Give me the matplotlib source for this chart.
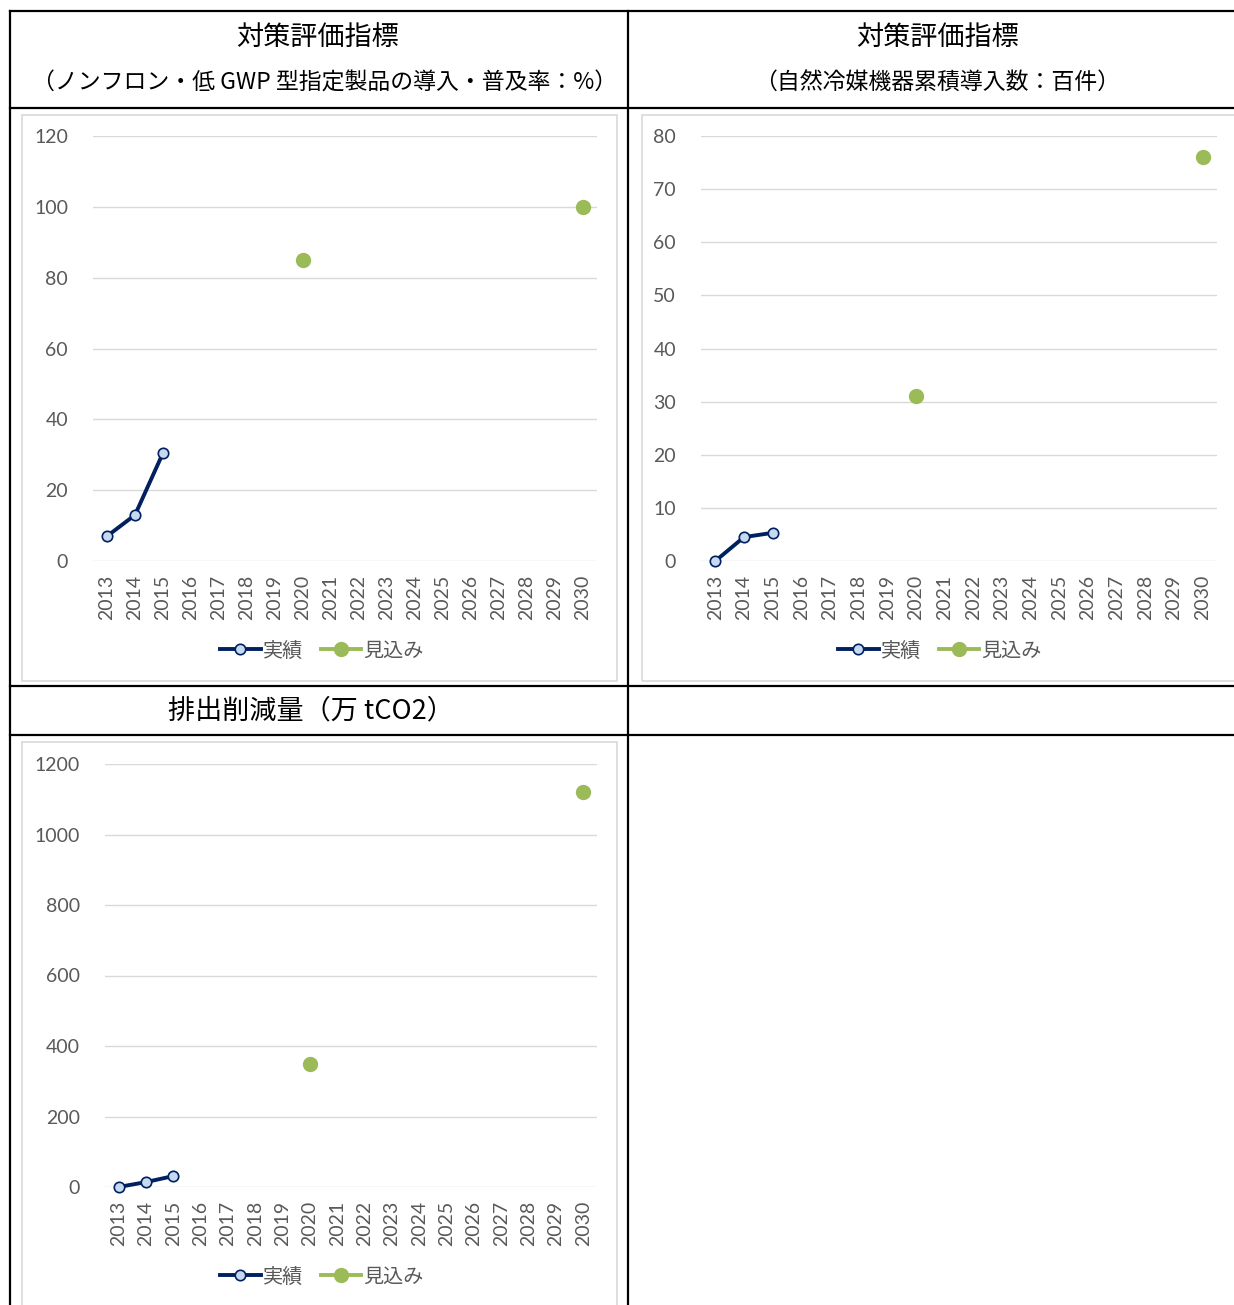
import matplotlib.pyplot as plt
from matplotlib.lines import Line2D
from matplotlib.patches import Rectangle
import numpy as np

plt.rcParams['font.family'] = ['Lato', 'Noto Sans CJK JP', 'DejaVu Sans']

#########
# data
#########
years = [str(y) for y in range(2013, 2031)]

# chart 1: ノンフロン・低GWP型指定製品の導入・普及率 (%)
actual1 = {'2013': 7, '2014': 13, '2015': 30.5}
plan1 = {'2020': 85, '2030': 100}
# chart 2: 自然冷媒機器累積導入数 (百件)
actual2 = {'2013': 0, '2014': 4.5, '2015': 5.3}
plan2 = {'2020': 31, '2030': 76}
# chart 3: 排出削減量 (万tCO2)
actual3 = {'2013': 0, '2014': 14, '2015': 31}
plan3 = {'2020': 350, '2030': 1120}

header1 = '対策評価指標'
sub1 = '（ノンフロン・低 GWP 型指定製品の導入・普及率：%）'
sub2 = '（自然冷媒機器累積導入数：百件）'
header3 = '排出削減量（万 tCO2）'
legend_labels = ['実績', '見込み']

#########
# style
#########
W, H = 1234, 1305
navy = '#002060'
lightblue = '#c5d9f1'
green = '#9bbb59'
grid_c = '#d9d9d9'
tick_c = '#595959'


def fx(x):
    return x / W


def fy(y):
    return 1 - y / H


def series(d):
    return np.array([d.get(y, np.nan) for y in years], dtype=float)


def draw_chart(fig, box, plot, leg_xy, ymax, ystep, actual, plan):
    # light outer frame of the chart object
    bx0, by0, bx1, by1 = box
    fig.add_artist(Rectangle((fx(bx0), fy(by1)), fx(bx1 - bx0), (by1 - by0) / H,
                             transform=fig.transFigure, fill=False,
                             edgecolor=grid_c, linewidth=1.2))
    x0, ytop, x1, ybot = plot
    ax = fig.add_axes([fx(x0), fy(ybot), fx(x1 - x0), (ybot - ytop) / H])
    xs = np.arange(len(years))
    ax.plot(xs, series(actual), color=navy, lw=2.8, marker='o', ms=7.5,
            mfc=lightblue, mec=navy, mew=1.2, label=legend_labels[0],
            zorder=3, clip_on=False)
    ax.plot(xs, series(plan), color=green, lw=2.8, marker='o', ms=10,
            mfc=green, mec=green, label=legend_labels[1], zorder=3, clip_on=False)
    ax.set_xlim(-0.5, len(years) - 0.5)
    ax.set_ylim(0, ymax)
    ax.set_yticks(np.arange(0, ymax + ystep / 2, ystep))
    ax.set_xticks(xs)
    ax.set_xticklabels(years, rotation=90)
    ax.tick_params(axis='both', length=0, labelsize=14, colors=tick_c)
    ax.tick_params(axis='y', pad=18)
    ax.tick_params(axis='x', pad=10)
    ax.grid(axis='y', color=grid_c, lw=1)
    ax.set_axisbelow(True)
    for s in ax.spines.values():
        s.set_visible(False)
    ax.patch.set_alpha(0)
    leg = ax.legend(loc='center', bbox_to_anchor=(fx(leg_xy[0]), fy(leg_xy[1])),
                    bbox_transform=fig.transFigure, ncol=2, frameon=False,
                    handlelength=2.0, handletextpad=0.1, columnspacing=0.9,
                    prop={'family': ['Noto Sans CJK JP'], 'size': 14.5})
    for t in leg.get_texts():
        t.set_color(tick_c)
    return ax


fig = plt.figure(figsize=(W / 100, H / 100), dpi=100)

# table grid
lw = 1.6
for y in [11, 108, 686, 735]:
    fig.add_artist(Line2D([fx(10), 1], [fy(y), fy(y)], color='black', lw=lw))
for x in [10, 628]:
    fig.add_artist(Line2D([fx(x), fx(x)], [fy(11), 0], color='black', lw=lw))

# headers
fig.text(fx(318), fy(37), header1, ha='center', va='center', fontsize=19.5,
         family=['Noto Sans CJK JP'])
fig.text(fx(325), fy(83), sub1, ha='center', va='center', fontsize=16.5,
         family=['Noto Sans CJK JP'])
fig.text(fx(938), fy(37), header1, ha='center', va='center', fontsize=19.5,
         family=['Noto Sans CJK JP'])
fig.text(fx(937), fy(83), sub2, ha='center', va='center', fontsize=16.5,
         family=['Noto Sans CJK JP'])
fig.text(fx(311), fy(711), header3, ha='center', va='center', fontsize=19.5,
         family=['Noto Sans CJK JP'])

draw_chart(fig, (22, 115, 617, 681), (93, 136, 597, 561), (322, 651),
           120, 20, actual1, plan1)
draw_chart(fig, (642, 115, 1245, 681), (701, 136, 1217, 561), (940, 651),
           80, 10, actual2, plan2)
draw_chart(fig, (22, 742, 617, 1320), (105, 764, 597, 1187), (322, 1277),
           1200, 200, actual3, plan3)

fig.savefig('out.png', dpi=100, facecolor='white')
